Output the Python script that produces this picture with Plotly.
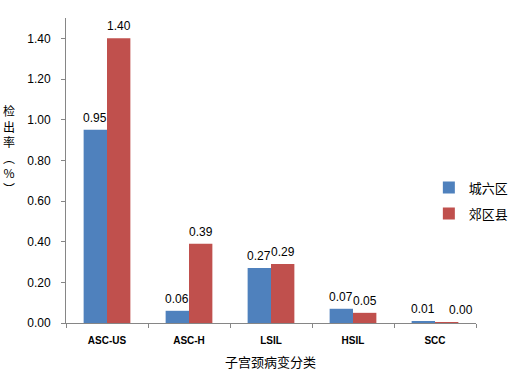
import plotly.graph_objects as go

categories = ["ASC-US", "ASC-H", "LSIL", "HSIL", "SCC"]
series_names = ["城六区", "郊区县"]
urban = [0.95, 0.06, 0.27, 0.07, 0.01]
suburban = [1.40, 0.39, 0.29, 0.05, 0.004]
colors = ["#4F81BD", "#C0504D"]
y_ticks = [0.0, 0.2, 0.4, 0.6, 0.8, 1.0, 1.2, 1.4]
y_title_chars = ["检", "出", "率", "︵", "%", "︶"]
x_title = "子宫颈病变分类"

FONT = "Liberation Sans, Arial, Noto Sans CJK SC"
CJK = "Noto Sans CJK SC, Liberation Sans"
bar_w = 0.285

W, H = 508, 377
L, R, T, B = 66, 32, 18, 54
plot_w = W - L - R
plot_h = H - T - B


def px_x(x):
    return (x - L) / plot_w


def px_y(y):
    return (H - B - y) / plot_h


fig = go.Figure()
annotations = []
all_vals = [urban, suburban]
for k, (name, vals, col) in enumerate(zip(series_names, all_vals, colors)):
    off = -bar_w if k == 0 else 0.0
    fig.add_trace(go.Bar(
        x=categories, y=vals, name=name, marker=dict(color=col, line=dict(width=0)),
        width=bar_w, offset=off, legendgroup=name,
    ))
    for i, v in enumerate(vals):
        # nudge the second label right when both bars are tiny (labels would collide)
        xs = 0
        if k == 1 and max(urban[i], suburban[i]) < 0.03:
            xs = 14
        annotations.append(dict(
            x=i + off + bar_w / 2, y=v, xref="x", yref="y", text=f"{v:.2f}",
            showarrow=False, yanchor="bottom", yshift=3, xshift=xs,
            font=dict(family=FONT, size=12, color="#000000"),
        ))

# vertical y-axis title, upright characters stacked
annotations.append(dict(
    x=px_x(9), y=px_y(150), xref="paper", yref="paper",
    text="<br>".join(y_title_chars), showarrow=False,
    xanchor="center", yanchor="middle",
    font=dict(family=CJK, size=12, color="#000000"),
))

annotations.append(dict(
    x=px_x(270), y=px_y(361), xref="paper", yref="paper", text=x_title, showarrow=False,
    xanchor="center", yanchor="middle",
    font=dict(family=CJK, size=13, color="#000000"),
))

fig.update_layout(
    width=W, height=H,
    margin=dict(l=L, r=R, t=T, b=B, autoexpand=False),
    paper_bgcolor="white", plot_bgcolor="white",
    barmode="overlay",
    showlegend=True,
    legend=dict(
        x=0.885, y=0.493, xanchor="left", yanchor="top",
        font=dict(family=CJK, size=13, color="#000000"),
        bgcolor="rgba(0,0,0,0)", traceorder="grouped", tracegroupgap=6,
    ),
    xaxis=dict(
        type="category", range=[-0.5, 4.5], automargin=False,
        showline=True, linecolor="#868686", linewidth=1,
        ticks="outside", tickson="boundaries", ticklen=4, tickcolor="#868686",
        tickfont=dict(family=FONT, size=10, color="#000000", weight="bold"),
        ticklabelstandoff=8,
        showgrid=False, zeroline=False,
    ),
    yaxis=dict(
        range=[0, 1.5], tickvals=y_ticks, ticktext=[f"{t:.2f}" for t in y_ticks],
        automargin=False,
        showline=True, linecolor="#868686", linewidth=1,
        ticks="outside", ticklen=4, tickcolor="#868686",
        tickfont=dict(family=FONT, size=12, color="#000000"),
        ticklabelstandoff=8,
        showgrid=False, zeroline=False,
    ),
    annotations=annotations,
)

fig.write_html("out.html", config={"displayModeBar": False},
               post_script="document.body.style.margin='0px';")
